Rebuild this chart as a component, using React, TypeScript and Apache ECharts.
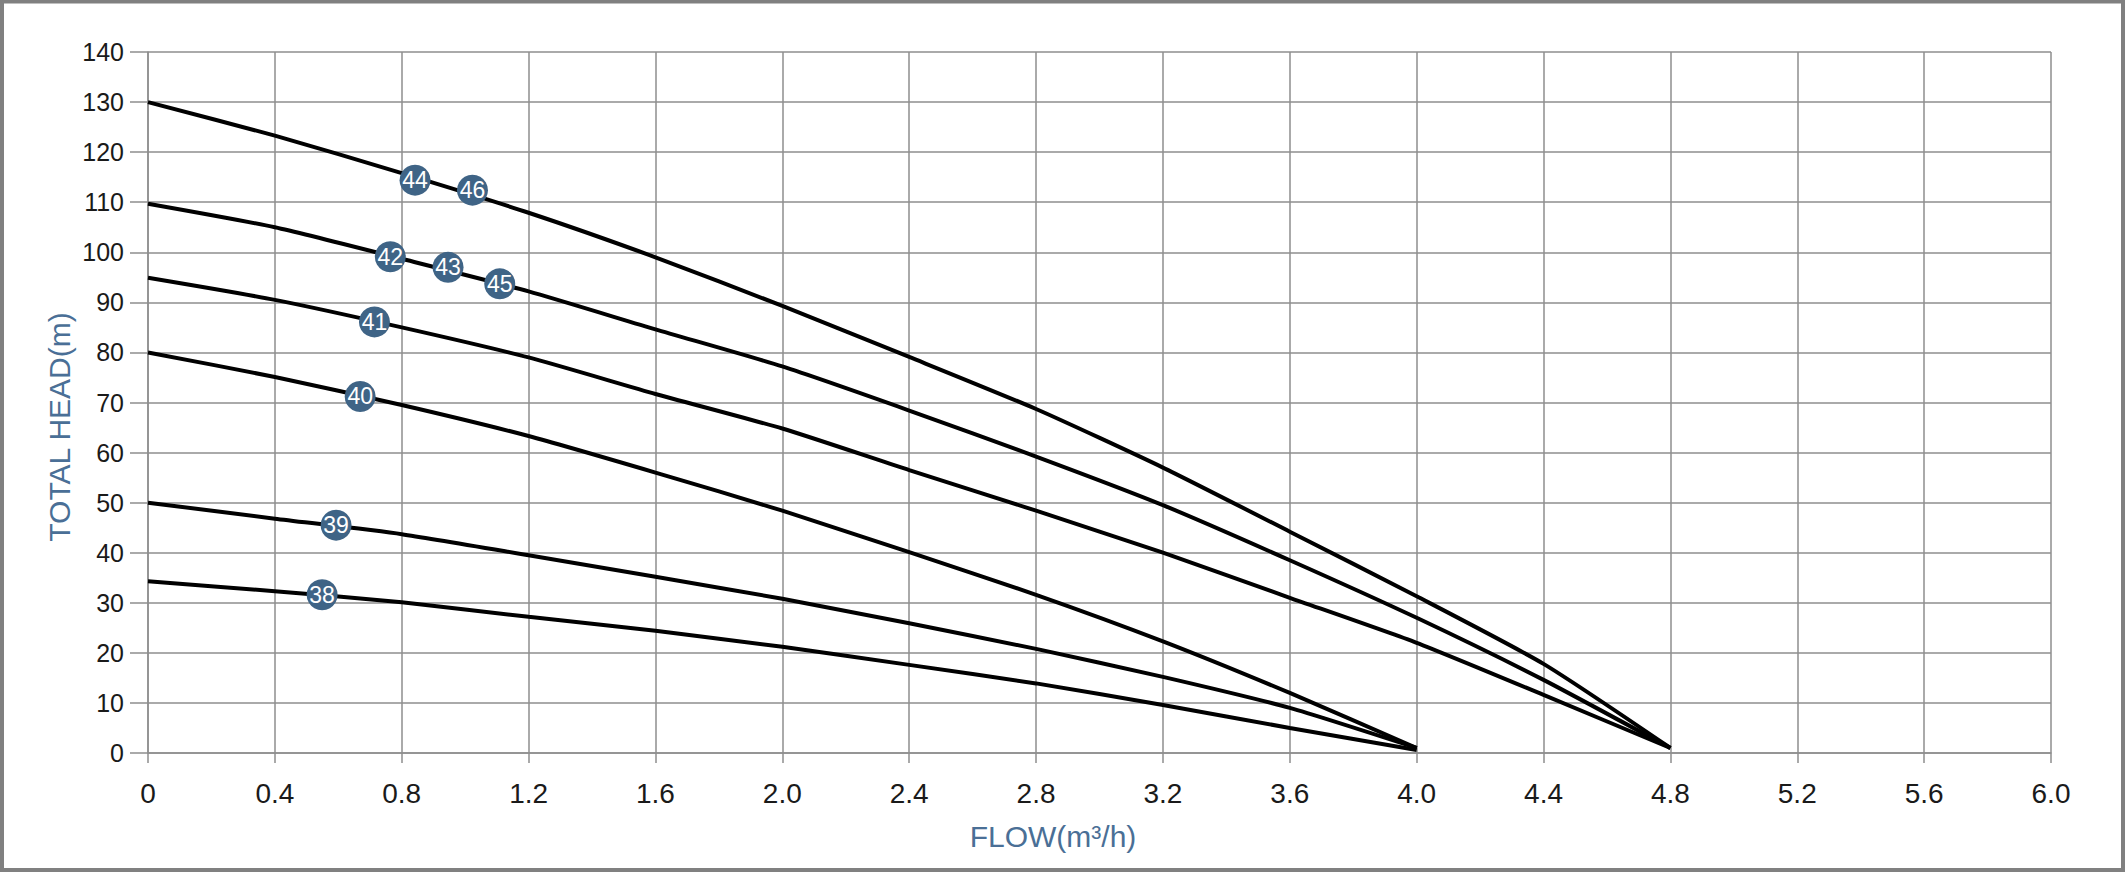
import React, { useEffect, useRef } from "react";
import * as echarts from "echarts";

const flow = [0, 0.4, 0.8, 1.2, 1.6, 2.0, 2.4, 2.8, 3.2, 3.6, 4.0, 4.4, 4.8];
const head4446 = [130, 123.3, 115.8, 107.9, 99, 89.3, 79.1, 68.7, 57, 44.2, 31.3, 17.8, 1];
const head424345 = [109.7, 105, 98.7, 92.2, 84.6, 77.2, 68.4, 59.2, 49.5, 38.5, 27, 14.6, 1];
const head41 = [94.9, 90.5, 85, 79, 71.7, 64.8, 56.5, 48.4, 40, 31, 22, 11.6, 1];
const head40 = [80, 75.1, 69.5, 63.3, 56, 48.4, 40.1, 31.6, 22.3, 12, 1];
const head39 = [50, 46.8, 43.7, 39.5, 35.2, 30.8, 25.9, 20.8, 15.2, 9, 1];
const head38 = [34.3, 32.3, 30.1, 27.2, 24.4, 21.2, 17.6, 13.9, 9.6, 5, 0.6];

const curves = [head4446, head424345, head41, head40, head39, head38];

const markerNames = ["44", "46", "42", "43", "45", "41", "40", "39", "38"];
const markerFlow = [0.842, 1.023, 0.764, 0.946, 1.109, 0.714, 0.669, 0.593, 0.549];
const markerHead = [114.4, 112.4, 99.1, 97.0, 93.7, 86.1, 71.2, 45.5, 31.6];

const xTitle = "FLOW(m³/h)";
const yTitle = "TOTAL HEAD(m)";

const FONT = "'Liberation Sans', Arial, Helvetica, sans-serif";
const GRID = "#8e8e8e";
const TITLE_COLOR = "#4a6f96";

export default function App() {
  const ref = useRef<HTMLDivElement>(null);
  useEffect(() => {
    if (!ref.current) return;
    const chart = echarts.init(ref.current, null, { renderer: "svg" });
    const lineSeries = curves.map((c) => ({
      type: "line",
      data: c.map((v, i) => [flow[i], v]),
      showSymbol: false,
      smooth: 0.2,
      lineStyle: { color: "#000", width: 4 },
      z: 3,
      silent: true,
    }));
    chart.setOption({
      animation: false,
      backgroundColor: "#fff",
      grid: { left: 148, right: 74, top: 52, bottom: 119, containLabel: false },
      xAxis: {
        type: "value",
        min: 0,
        max: 6.0,
        interval: 0.4,
        axisLine: { show: true, lineStyle: { color: GRID, width: 1.5 } },
        axisTick: { show: true, length: 10, lineStyle: { color: GRID, width: 1.5 } },
        splitLine: { show: true, lineStyle: { color: GRID, width: 1.5 } },
        axisLabel: {
          margin: 26,
          fontSize: 28,
          color: "#1a1a1a",
          fontFamily: FONT,
          formatter: (v: number) => (Math.abs(v) < 1e-9 ? "0" : v.toFixed(1)),
        },
      },
      yAxis: {
        type: "value",
        min: 0,
        max: 140,
        interval: 10,
        axisLine: { show: true, lineStyle: { color: GRID, width: 1.5 } },
        axisTick: { show: true, length: 18, lineStyle: { color: GRID, width: 1.5 } },
        splitLine: { show: true, lineStyle: { color: GRID, width: 1.5 } },
        axisLabel: {
          margin: 24,
          fontSize: 25,
          color: "#1a1a1a",
          fontFamily: FONT,
        },
      },
      graphic: [
        {
          type: "rect",
          shape: { x: 2, y: 1.5, width: 2121, height: 868.5 },
          style: { fill: "none", stroke: "#808080", lineWidth: 4 },
          z: 100,
        },
        {
          type: "text",
          x: 59,
          y: 427,
          rotation: Math.PI / 2,
          style: {
            text: yTitle,
            fontSize: 30,
            fontFamily: FONT,
            fill: TITLE_COLOR,
            align: "center",
            verticalAlign: "middle",
          },
        },
        {
          type: "text",
          x: 1053,
          y: 836,
          style: {
            text: xTitle,
            fontSize: 30,
            fontFamily: FONT,
            fill: TITLE_COLOR,
            align: "center",
            verticalAlign: "middle",
          },
        },
      ],
      series: [
        ...lineSeries,
        {
          type: "scatter",
          data: markerNames.map((n, i) => ({ name: n, value: [markerFlow[i], markerHead[i]] })),
          symbol: "circle",
          symbolSize: 31,
          itemStyle: { color: "#3f6486", opacity: 1 },
          z: 5,
          silent: true,
          label: {
            show: true,
            position: "inside",
            formatter: (p: any) => p.name,
            color: "#fff",
            fontSize: 23,
            fontFamily: FONT,
          },
        },
      ],
    });
    return () => chart.dispose();
  }, []);
  return (
    <div
      ref={ref}
      style={{ position: "absolute", left: 0, top: 0, width: 2125, height: 872 }}
    />
  );
}
